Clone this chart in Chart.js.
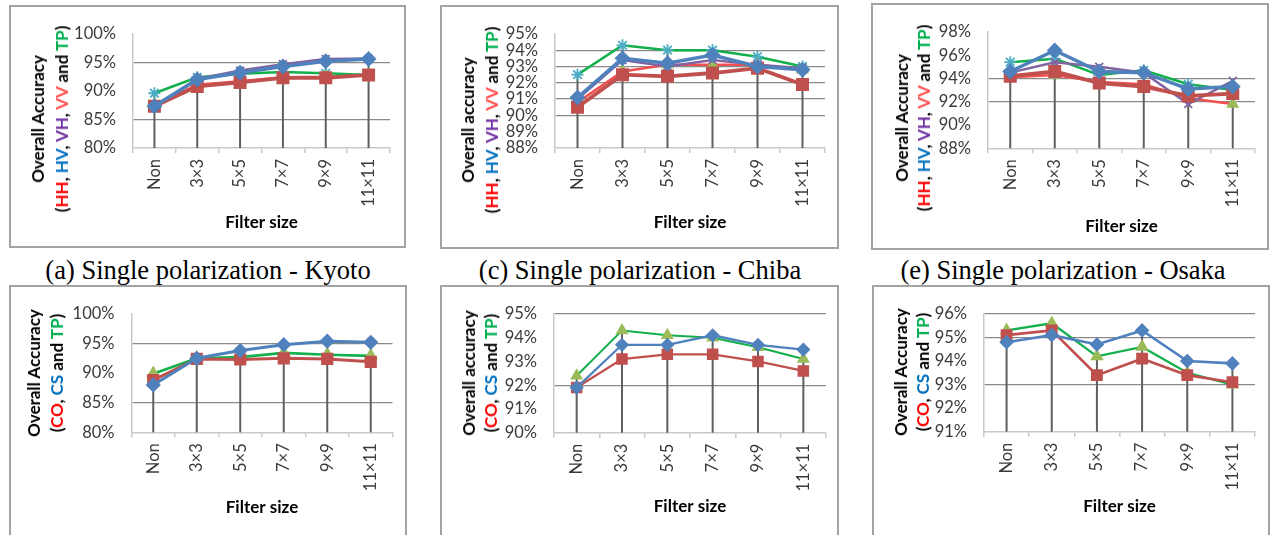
<!DOCTYPE html>
<html>
<head>
<meta charset="utf-8">
<script src="https://cdn.jsdelivr.net/npm/chart.js@4.4.0/dist/chart.umd.min.js"></script>
<style>
  html, body { margin: 0; padding: 0; background: #fff; }
  body { width: 1277px; height: 535px; overflow: hidden; position: relative; }
  .box { position: absolute; border: 2px solid #a3a3a3; box-sizing: border-box; background: #fff; overflow: hidden; }
  .box canvas { position: absolute; left: 0; top: 0; }
  .ytitle { position: absolute; transform: translate(-50%, -50%) rotate(-90deg); white-space: nowrap; text-align: center;
            font: bold 17px Lato, sans-serif; color: #000; }
  .cap { position: absolute; transform: translateX(-50%); white-space: nowrap; font: 26.5px "Liberation Serif", serif; line-height: 26px; color: #000; }
</style>
</head>
<body>
<script>
var filterSizes = ['Non', '3×3', '5×5', '7×7', '9×9', '11×11'];

// (a) Single polarization - Kyoto
var kyotoSingleHH = [87.3, 90.8, 91.5, 92.3, 92.3, 92.8];
var kyotoSingleHV = [87.3, 92.0, 93.2, 94.3, 95.2, 95.6];
var kyotoSingleVH = [87.4, 92.1, 93.6, 94.7, 95.6, 95.7];
var kyotoSingleVV = [87.5, 91.1, 91.7, 92.4, 92.5, 92.8];
var kyotoSingleTP = [89.6, 92.4, 93.0, 93.3, 93.1, 92.8];

// (c) Single polarization - Chiba
var chibaSingleHH = [90.5, 92.5, 92.4, 92.6, 92.9, 91.9];
var chibaSingleHV = [91.1, 93.5, 93.2, 93.7, 93.0, 92.8];
var chibaSingleVH = [91.0, 93.4, 93.0, 93.4, 93.1, 92.9];
var chibaSingleVV = [90.8, 92.7, 93.1, 93.1, 93.1, 92.8];
var chibaSingleTP = [92.5, 94.3, 94.0, 94.0, 93.6, 93.0];

// (e) Single polarization - Osaka
var osakaSingleHH = [94.2, 94.6, 93.6, 93.3, 92.5, 92.7];
var osakaSingleHV = [94.6, 96.4, 94.6, 94.5, 93.1, 93.3];
var osakaSingleVH = [94.5, 95.4, 95.0, 94.5, 91.8, 93.8];
var osakaSingleVV = [94.1, 94.3, 93.7, 93.5, 92.3, 91.8];
var osakaSingleTP = [95.4, 95.7, 94.3, 94.7, 93.5, 93.0];

// bottom row: CO, CS and TP
var kyotoCO = [88.8, 92.4, 92.3, 92.5, 92.4, 91.9];
var kyotoCS = [88.0, 92.5, 93.8, 94.8, 95.4, 95.2];
var kyotoTP = [89.9, 92.5, 92.7, 93.4, 93.1, 92.9];

var chibaCO = [91.9, 93.1, 93.3, 93.3, 93.0, 92.6];
var chibaCS = [91.9, 93.7, 93.7, 94.1, 93.7, 93.5];
var chibaTP = [92.4, 94.3, 94.1, 94.0, 93.6, 93.1];

var osakaCO = [95.1, 95.3, 93.4, 94.1, 93.4, 93.1];
var osakaCS = [94.8, 95.1, 94.7, 95.3, 94.0, 93.9];
var osakaTP = [95.3, 95.6, 94.2, 94.6, 93.5, 93.0];

// y axis: min, max, step
var rangeKyotoSingle = [80, 100, 5];
var rangeChibaSingle = [88, 95, 1];
var rangeOsakaSingle = [88, 98, 2];
var rangeKyotoDual = [80, 100, 5];
var rangeChibaDual = [90, 95, 1];
var rangeOsakaDual = [91, 96, 1];

var captions = ['(a) Single polarization - Kyoto', '(c) Single polarization - Chiba', '(e) Single polarization - Osaka'];

var RED = '#C0504D', BLUE = '#4F81BD', PURPLE = '#8064A2', GREENM = '#9BBB59', AQUA = '#4BACC6';
var LRED = '#F24F4F', GREEN = '#12B04A';

function singleSeries(hh, hv, vh, vv, tp, lw) {
  return [
    { data: hh, borderColor: RED, pointStyle: 'rect', pointRadius: 6.5, pointBackgroundColor: RED, pointBorderColor: RED, borderWidth: lw + 0.8, order: 1 },
    { data: hv, borderColor: BLUE, pointStyle: 'rectRot', pointRadius: 5.5, pointBackgroundColor: BLUE, pointBorderColor: BLUE, borderWidth: lw + 0.5, order: 0 },
    { data: vh, borderColor: PURPLE, pointStyle: 'crossRot', pointRadius: 5.5, pointBorderColor: PURPLE, pointBorderWidth: 1.8, borderWidth: lw - 0.5, order: 2 },
    { data: vv, borderColor: LRED, pointStyle: 'triangle', pointRadius: 5, pointBackgroundColor: GREENM, pointBorderColor: GREENM, borderWidth: lw - 0.5, order: 3 },
    { data: tp, borderColor: GREEN, pointStyle: 'star', pointRadius: 6, pointBorderColor: AQUA, pointBorderWidth: 1.8, borderWidth: lw - 0.5, order: 4 }
  ];
}

function dualSeries(co, cs, tp, lw) {
  return [
    { data: co, borderColor: RED, pointStyle: 'rect', pointRadius: 6.5, pointBackgroundColor: RED, pointBorderColor: RED, borderWidth: lw, order: 1 },
    { data: cs, borderColor: BLUE, pointStyle: 'rectRot', pointRadius: 5.5, pointBackgroundColor: BLUE, pointBorderColor: BLUE, borderWidth: lw, order: 0 },
    { data: tp, borderColor: GREEN, pointStyle: 'triangle', pointRadius: 5.5, pointBackgroundColor: GREENM, pointBorderColor: GREENM, borderWidth: lw - 0.3, order: 2 }
  ];
}

var singleTitle = 'Overall Accuracy<br>(<span style="color:#FF0000">HH</span>, <span style="color:#0070C0">HV</span>, ' +
  '<span style="color:#7030A0">VH</span>, <span style="color:#FF5050">VV</span> and <span style="color:#00B050">TP</span>)';
var dualTitle = 'Overall Accuracy<br>(<span style="color:#FF0000">CO</span>, <span style="color:#0070C0">CS</span> and <span style="color:#00B050">TP</span>)';

var panels = [
  { box: [9, 5, 406, 248], plot: [133, 22, 390, 148], filterY: 223, yt: [50, 119, 24], title: singleTitle, range: rangeKyotoSingle, grid: [95, 85],
    series: singleSeries(kyotoSingleHH, kyotoSingleHV, kyotoSingleVH, kyotoSingleVV, kyotoSingleTP, 3) },
  { box: [440, 5, 839, 249], plot: [555, 21.5, 825, 148], filterY: 223, yt: [480, 120, 24], title: singleTitle.replace('Accuracy', 'accuracy'), range: rangeChibaSingle, grid: [94, 93, 92, 91, 90],
    series: singleSeries(chibaSingleHH, chibaSingleHV, chibaSingleVH, chibaSingleVV, chibaSingleTP, 3) },
  { box: [871, 3, 1269, 250], plot: [988, 21.7, 1255, 148.3], filterY: 226.5, yt: [913, 118, 22], title: singleTitle, range: rangeOsakaSingle, grid: [94, 92],
    series: singleSeries(osakaSingleHH, osakaSingleHV, osakaSingleVH, osakaSingleVV, osakaSingleTP, 3) },
  { box: [9, 285, 407, 545], plot: [131.5, 304.3, 392.5, 432.3], filterY: 508, yt: [45, 373, 23], title: dualTitle, range: rangeKyotoDual, grid: [95, 85],
    series: dualSeries(kyotoCO, kyotoCS, kyotoTP, 3) },
  { box: [440, 285, 839, 545], plot: [554, 306.7, 826, 432.7], filterY: 507, yt: [480, 373, 22], title: dualTitle.replace('Accuracy', 'accuracy'), range: rangeChibaDual, grid: [95, 92],
    series: dualSeries(chibaCO, chibaCS, chibaTP, 2.3) },
  { box: [872, 285, 1270, 545], plot: [984, 305, 1255, 431.7], filterY: 506.5, yt: [912, 372, 22], title: dualTitle.replace('CO, ', 'CO,'), range: rangeOsakaDual, grid: [96, 95, 93],
    series: dualSeries(osakaCO, osakaCS, osakaTP, 2.6) }
];

// Excel style drop lines from the highest point of each category
var dropLines = {
  id: 'dropLines',
  beforeDatasetsDraw: function(chart) {
    var ctx = chart.ctx, x = chart.scales.x, y = chart.scales.y;
    ctx.save();
    ctx.strokeStyle = '#5f5f5f';
    ctx.lineWidth = 2;
    for (var i = 0; i < filterSizes.length; i++) {
      var top = -Infinity;
      chart.data.datasets.forEach(function(ds) { top = Math.max(top, ds.data[i]); });
      var px = x.getPixelForValue(i);
      ctx.beginPath();
      ctx.moveTo(px, y.getPixelForValue(top));
      ctx.lineTo(px, chart.chartArea.bottom);
      ctx.stroke();
    }
    ctx.restore();
  }
};

panels.forEach(function(p) {
  var box = document.createElement('div');
  box.className = 'box';
  var bw = p.box[2] - p.box[0], bh = p.box[3] - p.box[1];
  box.style.left = p.box[0] + 'px';
  box.style.top = p.box[1] + 'px';
  box.style.width = bw + 'px';
  box.style.height = bh + 'px';
  document.body.appendChild(box);

  var cx0 = p.box[0] + 2, cy0 = p.box[1] + 2;
  var cw = bw - 4, ch = bh - 4;
  var canvas = document.createElement('canvas');
  canvas.width = cw;
  canvas.height = ch;
  canvas.style.width = cw + 'px';
  canvas.style.height = ch + 'px';
  box.appendChild(canvas);

  var yWidth = p.plot[0] - cx0;
  var xHeight = cy0 + ch - p.plot[3];
  var titlePad = (cy0 + ch) - p.filterY - 10.2;

  new Chart(canvas.getContext('2d'), {
    type: 'line',
    data: {
      labels: filterSizes,
      datasets: p.series.map(function(s) {
        s.fill = false;
        s.tension = 0;
        return s;
      })
    },
    options: {
      responsive: false,
      animation: false,
      devicePixelRatio: 1,
      layout: { padding: { top: p.plot[1] - cy0, right: cx0 + cw - p.plot[2], left: 0, bottom: 0 } },
      plugins: { legend: { display: false }, tooltip: { enabled: false } },
      scales: {
        x: {
          offset: true,
          afterFit: function(s) { s.height = xHeight; },
          grid: { drawOnChartArea: false, offset: true, tickLength: 5, color: '#c9c9c9', lineWidth: 1.5 },
          border: { color: '#c9c9c9', width: 1.5 },
          ticks: { autoSkip: false, minRotation: 90, maxRotation: 90, padding: 6, color: '#3a3a3a',
                   font: { family: 'Lato', size: 16.5 } },
          title: { display: true, text: 'Filter size', color: '#000', padding: { top: 0, bottom: titlePad },
                   font: { family: 'Lato', size: 17, weight: 'bold', lineHeight: 1.2 } }
        },
        y: {
          min: p.range[0], max: p.range[1],
          afterFit: function(s) { s.width = yWidth; },
          grid: {
            drawTicks: false, lineWidth: 1.3,
            color: function(c) { return c.tick && p.grid.indexOf(c.tick.value) >= 0 ? '#8a8a8a' : 'rgba(0,0,0,0)'; }
          },
          border: { color: '#c9c9c9', width: 1.5 },
          ticks: { stepSize: p.range[2], autoSkip: false, padding: 17, color: '#3a3a3a', font: { family: 'Lato', size: 16.5 },
                   callback: function(v) { return v + '%'; } }
        }
      }
    },
    plugins: [dropLines]
  });

  var yt = document.createElement('div');
  yt.className = 'ytitle';
  yt.style.left = p.yt[0] + 'px';
  yt.style.top = p.yt[1] + 'px';
  yt.style.lineHeight = p.yt[2] + 'px';
  yt.innerHTML = p.title;
  document.body.appendChild(yt);
});

[208, 640, 1063].forEach(function(cx, i) {
  var c = document.createElement('div');
  c.className = 'cap';
  c.style.left = cx + 'px';
  c.style.top = '257px';
  c.textContent = captions[i];
  document.body.appendChild(c);
});
</script>
</body>
</html>
